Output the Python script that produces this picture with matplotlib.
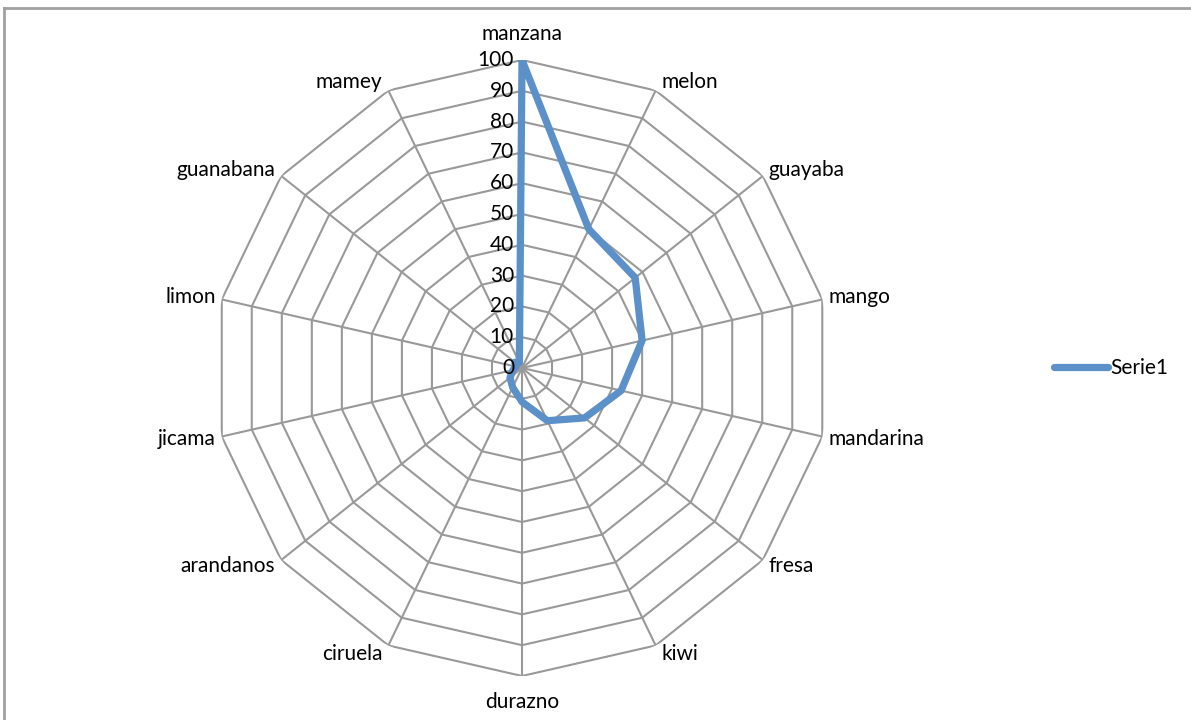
import numpy as np
import matplotlib
matplotlib.use("Agg")
import matplotlib.pyplot as plt
from matplotlib.lines import Line2D

plt.rcParams['font.family'] = ['Lato', 'DejaVu Sans']

# fruit scores, clockwise from the top
categories = ['manzana', 'melon', 'guayaba', 'mango', 'mandarina', 'fresa', 'kiwi',
              'durazno', 'ciruela', 'arandanos', 'jicama', 'limon', 'guanabana', 'mamey']
values = [100, 50, 47, 40, 33, 26, 19, 11, 7, 5, 3, 2, 3, 2]
rings = list(range(0, 101, 10))
series_name = 'Serie1'

grid_color = '#999999'
line_color = '#5b90c9'
fsize = 15

n = len(categories)
angles = np.arange(n) * 2 * np.pi / n
closed = np.append(angles, angles[0])

fig = plt.figure(figsize=(11.91, 7.2), dpi=100)
ax = fig.add_axes([0.1797, 0.0611, 0.5172, 0.8556], projection='polar')
ax.set_theta_zero_location('N')
ax.set_theta_direction(-1)
ax.set_ylim(0, 100)
ax.grid(False)
ax.spines['polar'].set_visible(False)
ax.set_xticks([])
ax.set_yticks([])
ax.patch.set_alpha(0)

# polygon rings and spokes (straight segments in polar plot)
for r in rings[1:]:
    ax.plot(closed, [r] * (n + 1), color=grid_color, lw=1.5, zorder=1)
for a in angles:
    ax.plot([a, a], [0, 100], color=grid_color, lw=1.5, zorder=1)

# data series
vals = values + values[:1]
line, = ax.plot(closed, vals, color=line_color, lw=5.2, zorder=3,
                solid_joinstyle='round', solid_capstyle='round', label=series_name)

# value axis labels along the first spoke
for r in rings:
    ax.annotate(str(r), (0, r), xytext=(-8, 0), textcoords='offset pixels',
                ha='right', va='center', fontsize=fsize, zorder=4)

# category labels outside the outer ring
for a, name in zip(angles, categories):
    s, c = np.sin(a), np.cos(a)
    if abs(s) < 0.1:
        ha, dx, dy = 'center', 0, 26 * np.sign(c)
    else:
        ha = 'left' if s > 0 else 'right'
        dx, dy = 6 * np.sign(s), 9 * c
    ax.annotate(name, (a, 100), xytext=(dx, dy), textcoords='offset pixels',
                ha=ha, va='center', fontsize=fsize, annotation_clip=False)

fig.legend(handles=[line], loc='center left', bbox_to_anchor=(1035 / 1191, 1 - 368 / 720),
           frameon=False, fontsize=fsize, handlelength=2.6, handletextpad=0.1)

# chart area border (top and left edges)
fig.add_artist(Line2D([4 / 1191, 4 / 1191], [0, 1 - 8 / 720], color='#a0a0a0', lw=2))
fig.add_artist(Line2D([4 / 1191, 1], [1 - 8 / 720, 1 - 8 / 720], color='#a0a0a0', lw=2))

fig.savefig('out.png', dpi=100)
